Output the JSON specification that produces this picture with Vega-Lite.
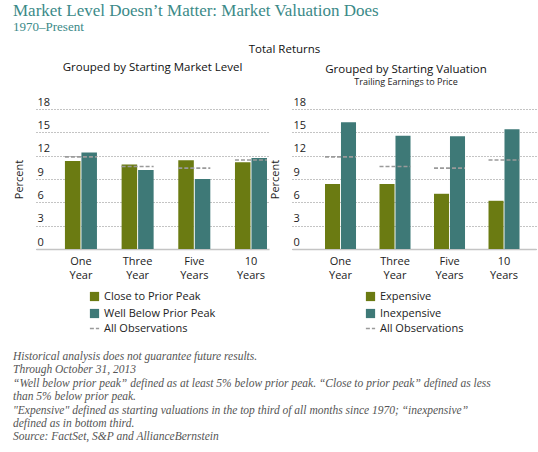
{
  "$schema": "https://vega.github.io/schema/vega-lite/v6.json",
  "padding": {"left": 13, "right": 1, "top": 2, "bottom": 4},
  "background": "white",
  "datasets": {
    "market": [
      {"period": "One Year", "group": "Close to Prior Peak", "value": 11.3},
      {"period": "One Year", "group": "Well Below Prior Peak", "value": 12.4},
      {"period": "Three Year", "group": "Close to Prior Peak", "value": 10.85},
      {"period": "Three Year", "group": "Well Below Prior Peak", "value": 10.15},
      {"period": "Five Years", "group": "Close to Prior Peak", "value": 11.4},
      {"period": "Five Years", "group": "Well Below Prior Peak", "value": 9.0},
      {"period": "10 Years", "group": "Close to Prior Peak", "value": 11.15},
      {"period": "10 Years", "group": "Well Below Prior Peak", "value": 11.7}
    ],
    "valuation": [
      {"period": "One Year", "group": "Expensive", "value": 8.35},
      {"period": "One Year", "group": "Inexpensive", "value": 16.3},
      {"period": "Three Year", "group": "Expensive", "value": 8.35},
      {"period": "Three Year", "group": "Inexpensive", "value": 14.55},
      {"period": "Five Years", "group": "Expensive", "value": 7.1},
      {"period": "Five Years", "group": "Inexpensive", "value": 14.5},
      {"period": "10 Years", "group": "Expensive", "value": 6.2},
      {"period": "10 Years", "group": "Inexpensive", "value": 15.4}
    ],
    "all": [
      {"period": "One Year", "series": "All Observations", "value": 11.85},
      {"period": "Three Year", "series": "All Observations", "value": 10.6},
      {"period": "Five Years", "series": "All Observations", "value": 10.4},
      {"period": "10 Years", "series": "All Observations", "value": 11.45}
    ]
  },
  "title": {
    "text": "Market Level Doesn’t Matter: Market Valuation Does",
    "subtitle": "1970–Present",
    "anchor": "start",
    "font": "Liberation Serif",
    "fontSize": 17,
    "fontWeight": "normal",
    "color": "#3b8a88",
    "subtitleFont": "Liberation Serif",
    "subtitleFontSize": 13,
    "subtitleColor": "#3b8a88",
    "subtitlePadding": 1,
    "offset": 9
  },
  "vconcat": [
    {
      "title": {
        "text": [
          "Historical analysis does not guarantee future results.",
          "Through October 31, 2013",
          "“Well below prior peak” defined as at least 5% below prior peak. “Close to prior peak” defined as less",
          "than 5% below prior peak.",
          "\"Expensive\" defined as starting valuations in the top third of all months since 1970; “inexpensive”",
          "defined as in bottom third.",
          "Source: FactSet, S&P and AllianceBernstein"
        ],
        "orient": "bottom",
        "anchor": "start",
        "font": "Liberation Serif",
        "fontStyle": "italic",
        "fontSize": 11.5,
        "fontWeight": "normal",
        "color": "#555555",
        "lineHeight": 13.4,
        "offset": 17
      },
      "vconcat": [
        {
          "title": {"text": "Total Returns", "anchor": "middle", "offset": 6, "dx": 10},
          "spacing": 0,
          "resolve": {
            "scale": {"x": "independent", "y": "independent", "color": "independent", "strokeDash": "independent"},
            "legend": {"color": "independent", "strokeDash": "independent"}
          },
          "hconcat": [
            {
              "width": 233,
              "height": 140,
              "title": {"text": "Grouped by Starting Market Level", "offset": 23},
              "encoding": {
                "x": {"field": "period", "type": "nominal", "sort": ["One Year", "Three Year", "Five Years", "10 Years"],
                  "scale": {"type": "band", "paddingInner": 0.435, "paddingOuter": 0.273, "align": 0.935}},
                "y": {"field": "value", "type": "quantitative", "title": "Percent",
                  "scale": {"domain": [0, 18], "nice": false, "padding": 0},
                  "axis": {"values": [0, 3, 6, 9, 12, 15, 18], "tickCount": 7, "labelOverlap": false, "grid": true, "gridColor": "#888888", "gridDash": [1, 2]}}
              },
              "layer": [
                {
                  "data": {"name": "market"},
                  "transform": [{"filter": "datum.group === 'Close to Prior Peak'"}],
                  "mark": {"type": "bar"},
                  "encoding": {
                    "x": {"field": "period", "type": "nominal", "sort": ["One Year", "Three Year", "Five Years", "10 Years"], "bandPosition": 0},
                    "x2": {"field": "period", "bandPosition": 0.485},
                    "y2": {"datum": 0},
                    "color": {"field": "group", "type": "nominal",
                      "scale": {"domain": ["Close to Prior Peak", "Well Below Prior Peak"], "range": ["#6b7b12", "#3e7977"]},
                      "legend": {"title": null, "orient": "bottom", "direction": "vertical"}}
                  }
                },
                {
                  "data": {"name": "market"},
                  "transform": [{"filter": "datum.group === 'Well Below Prior Peak'"}],
                  "mark": {"type": "bar"},
                  "encoding": {
                    "x": {"field": "period", "type": "nominal", "sort": ["One Year", "Three Year", "Five Years", "10 Years"], "bandPosition": 0.515},
                    "x2": {"field": "period", "bandPosition": 1},
                    "y2": {"datum": 0},
                    "color": {"field": "group", "type": "nominal",
                      "scale": {"domain": ["Close to Prior Peak", "Well Below Prior Peak"], "range": ["#6b7b12", "#3e7977"]},
                      "legend": {"title": null, "orient": "bottom", "direction": "vertical"}}
                  }
                },
                {
                  "data": {"name": "all"},
                  "mark": {"type": "rule", "color": "#9a9a9a", "strokeWidth": 1.6},
                  "encoding": {
                    "x": {"field": "period", "type": "nominal", "sort": ["One Year", "Three Year", "Five Years", "10 Years"], "bandPosition": 0},
                    "x2": {"field": "period", "bandPosition": 1},
                    "strokeDash": {"field": "series", "type": "nominal", "scale": {"range": [[4, 2]]},
                      "legend": {"title": null, "orient": "bottom", "direction": "vertical", "symbolStrokeWidth": 1.5}}
                  }
                }
              ]
            },
            {
              "width": 244,
              "height": 140,
              "title": {"text": "Grouped by Starting Valuation", "subtitle": "Trailing Earnings to Price", "offset": 9, "subtitlePadding": 3, "dx": -8},
              "encoding": {
                "x": {"field": "period", "type": "nominal", "sort": ["One Year", "Three Year", "Five Years", "10 Years"],
                  "scale": {"type": "band", "paddingInner": 0.431, "paddingOuter": 0.454, "align": 0.667}},
                "y": {"field": "value", "type": "quantitative", "title": "Percent",
                  "scale": {"domain": [0, 18], "nice": false, "padding": 0},
                  "axis": {"values": [0, 3, 6, 9, 12, 15, 18], "tickCount": 7, "labelOverlap": false, "grid": true, "gridColor": "#888888", "gridDash": [1, 2]}}
              },
              "layer": [
                {
                  "data": {"name": "valuation"},
                  "transform": [{"filter": "datum.group === 'Expensive'"}],
                  "mark": {"type": "bar"},
                  "encoding": {
                    "x": {"field": "period", "type": "nominal", "sort": ["One Year", "Three Year", "Five Years", "10 Years"], "bandPosition": 0},
                    "x2": {"field": "period", "bandPosition": 0.485},
                    "y2": {"datum": 0},
                    "color": {"field": "group", "type": "nominal",
                      "scale": {"domain": ["Expensive", "Inexpensive"], "range": ["#6b7b12", "#3e7977"]},
                      "legend": {"title": null, "orient": "bottom", "direction": "vertical"}}
                  }
                },
                {
                  "data": {"name": "valuation"},
                  "transform": [{"filter": "datum.group === 'Inexpensive'"}],
                  "mark": {"type": "bar"},
                  "encoding": {
                    "x": {"field": "period", "type": "nominal", "sort": ["One Year", "Three Year", "Five Years", "10 Years"], "bandPosition": 0.515},
                    "x2": {"field": "period", "bandPosition": 1},
                    "y2": {"datum": 0},
                    "color": {"field": "group", "type": "nominal",
                      "scale": {"domain": ["Expensive", "Inexpensive"], "range": ["#6b7b12", "#3e7977"]},
                      "legend": {"title": null, "orient": "bottom", "direction": "vertical"}}
                  }
                },
                {
                  "data": {"name": "all"},
                  "mark": {"type": "rule", "color": "#9a9a9a", "strokeWidth": 1.6},
                  "encoding": {
                    "x": {"field": "period", "type": "nominal", "sort": ["One Year", "Three Year", "Five Years", "10 Years"], "bandPosition": 0},
                    "x2": {"field": "period", "bandPosition": 1},
                    "strokeDash": {"field": "series", "type": "nominal", "scale": {"range": [[4, 2]]},
                      "legend": {"title": null, "orient": "bottom", "direction": "vertical", "symbolStrokeWidth": 1.5}}
                  }
                }
              ]
            }
          ]
        }
      ]
    }
  ],
  "config": {
    "view": {"stroke": null},
    "font": "Open Sans",
    "title": {"font": "Open Sans", "fontSize": 11.5, "fontWeight": "normal", "color": "#111111",
      "subtitleFont": "Open Sans", "subtitleFontSize": 9, "subtitleColor": "#222222", "subtitlePadding": 3},
    "axis": {"labelFont": "Open Sans", "labelFontSize": 11, "labelColor": "#222222",
      "titleFont": "Open Sans", "titleFontSize": 11, "titleFontWeight": "normal", "titleColor": "#222222"},
    "axisY": {"grid": true, "gridColor": "#888888", "gridDash": [1, 2], "gridWidth": 1, "domain": false, "ticks": false, "tickSize": 0,
      "labelAlign": "left", "labelBaseline": "bottom", "labelPadding": -1, "labelOffset": -2, "titlePadding": 12,
      "labelFlush": false, "labelOverlap": false},
    "axisX": {"domain": true, "domainColor": "#c4c4c4", "domainWidth": 1.5, "ticks": false, "grid": false, "labelAngle": 0, "labelPadding": 6,
      "labelLineHeight": 14, "labelExpr": "split(datum.label, ' ')", "title": null},
    "legend": {"labelFont": "Open Sans", "labelFontSize": 11, "labelColor": "#222222", "symbolSize": 85, "rowPadding": 5,
      "padding": 0, "offset": 11,
      "layout": {"bottom": {"anchor": "middle", "direction": "vertical", "margin": 4}}}
  }
}
